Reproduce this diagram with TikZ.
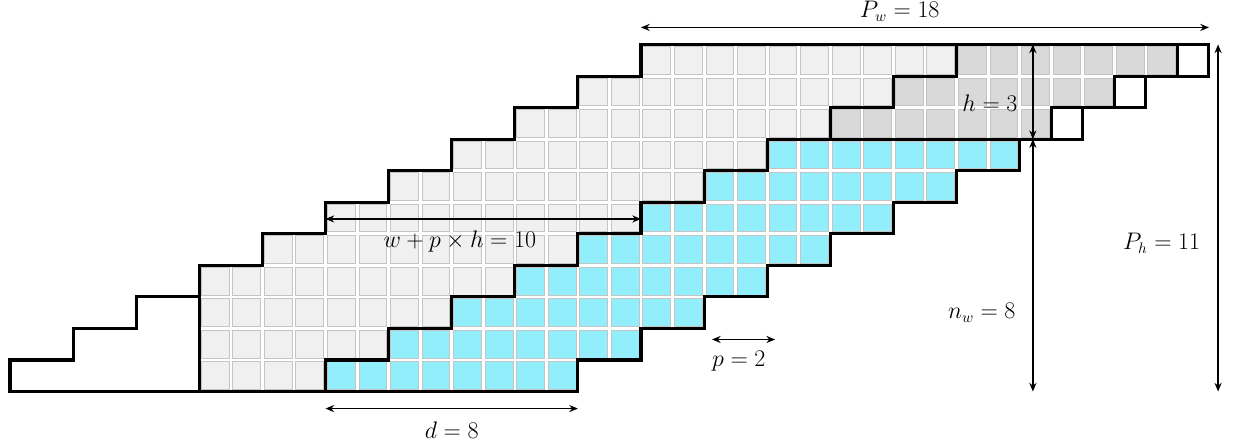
\documentclass[tikz,border=0pt]{standalone}
\usepackage{xcolor}
\usepackage{tikz}
\usetikzlibrary{arrows.meta,calc}
\definecolor{CellLight}{HTML}{F0F0F0}
\definecolor{CellDark}{HTML}{D9D9D9}
\definecolor{CellWave}{HTML}{93EEFC}
\definecolor{CellRim}{HTML}{C4C4C4}

\begin{document}
\begin{tikzpicture}[x=0.8cm,y=0.8cm,
  cell/.style={draw=CellRim,line width=0.6pt},
  lightcell/.style={cell,fill=CellLight},
  darkcell/.style={cell,fill=CellDark},
  wavecell/.style={cell,fill=CellWave},
  outline/.style={draw=black,line width=2.2pt,line join=miter},
  dim/.style={{Stealth[length=2.2mm,width=1.8mm]}-{Stealth[length=2.2mm,width=1.8mm]},draw=black,line width=1pt},
  lbl/.style={font=\fontsize{16}{19}\selectfont,inner sep=1pt}
]
\useasboundingbox (-0.317,-1.778) rectangle (38.795,12.41);
% cells
\foreach \r in {0,...,10}{
  \pgfmathtruncatemacro\cs{max(6,2*\r)}
  \pgfmathtruncatemacro\ce{9+2*\r}
  \foreach \c in {\cs,...,\ce}
    \path[lightcell] (\c+0.06,\r+0.06) rectangle (\c+0.94,\r+0.94);
}
\foreach \r in {0,...,7}{
  \pgfmathtruncatemacro\cs{10+2*\r}
  \pgfmathtruncatemacro\ce{17+2*\r}
  \foreach \c in {\cs,...,\ce}
    \path[wavecell] (\c+0.06,\r+0.06) rectangle (\c+0.94,\r+0.94);
}
\foreach \r in {8,9,10}{
  \pgfmathtruncatemacro\cs{10+2*\r}
  \pgfmathtruncatemacro\ce{16+2*\r}
  \foreach \c in {\cs,...,\ce}
    \path[darkcell] (\c+0.06,\r+0.06) rectangle (\c+0.94,\r+0.94);
}
% outlines
\draw[outline] (6,3) -- (4,3) -- (4,2) -- (2,2) -- (2,1) -- (0,1) -- (0,0) -- (6,0);
\draw[outline] (6,0) -- (6,4) -- (8,4) -- (8,5) -- (10,5) -- (10,6) -- (12,6) -- (12,7)
  -- (14,7) -- (14,8) -- (16,8) -- (16,9) -- (18,9) -- (18,10) -- (20,10) -- (20,11)
  -- (38,11) -- (38,10) -- (36,10) -- (36,9) -- (34,9) -- (34,8) -- (32,8) -- (32,7)
  -- (30,7) -- (30,6) -- (28,6) -- (28,5) -- (26,5) -- (26,4) -- (24,4) -- (24,3)
  -- (22,3) -- (22,2) -- (20,2) -- (20,1) -- (18,1) -- (18,0) -- cycle;
\draw[outline] (10,0) -- (10,1) -- (12,1) -- (12,2) -- (14,2) -- (14,3) -- (16,3) -- (16,4)
  -- (18,4) -- (18,5) -- (20,5) -- (20,6) -- (22,6) -- (22,7) -- (24,7) -- (24,8) -- (32,8);
\draw[outline] (26,8) -- (26,9) -- (28,9) -- (28,10) -- (30,10) -- (30,11);
\draw[outline] (37,11) -- (37,10) -- (35,10) -- (35,9) -- (33,9) -- (33,8);
% dimensions
\coordinate (pwleft) at (20,11.54);
\coordinate (pwright) at (38,11.54);
\coordinate (htop) at (32.42,11);
\coordinate (hbot) at (32.42,8);
\coordinate (nwtop) at (32.42,8);
\coordinate (nwbot) at (32.42,0);
\coordinate (phtop) at (38.29,11);
\coordinate (phbot) at (38.29,0);
\coordinate (wpleft) at (10,5.47);
\coordinate (wpright) at (20,5.47);
\coordinate (pleft) at (22.25,1.65);
\coordinate (pright) at (24.25,1.65);
\coordinate (dleft) at (10,-0.54);
\coordinate (dright) at (18,-0.54);
\draw[dim] (pwleft) -- (pwright);
\draw[dim] (htop) -- (hbot);
\draw[dim] (nwtop) -- (nwbot);
\draw[dim] (phtop) -- (phbot);
\draw[dim] (wpleft) -- (wpright);
\draw[dim] (pleft) -- (pright);
\draw[dim] (dleft) -- (dright);
\node[lbl] (pwlabel) at (28.2,12.05) {$P_w = 18$};
\node[lbl] (hlabel) at (31.06,9.13) {$h = 3$};
\node[lbl] (nwlabel) at (30.8,2.5) {$n_w = 8$};
\node[lbl] (phlabel) at (36.5,4.7) {$P_h = 11$};
\node[lbl] (wplabel) at (14.26,4.74) {$w + p \times h = 10$};
\node[lbl] (plabel) at (23.1,0.98) {$p = 2$};
\node[lbl] (dlabel) at (14.0,-1.24) {$d = 8$};
\end{tikzpicture}
\end{document}
